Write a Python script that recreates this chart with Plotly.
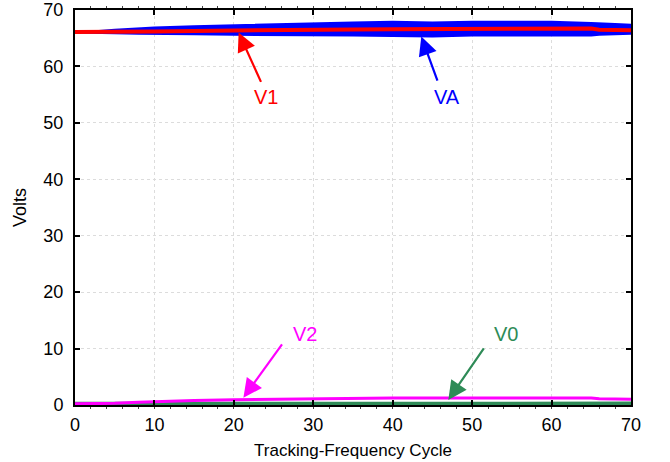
import plotly.graph_objects as go

# ---- data ----
x_pts = [0, 3, 5, 8, 10, 15, 20, 25, 30, 35, 40, 45, 50, 55, 60, 65, 66, 68, 70]
va_upper = [66.3, 66.3, 66.5, 66.7, 66.9, 67.1, 67.3, 67.5, 67.6, 67.8, 67.9, 67.8, 67.9, 67.9, 67.9, 67.7, 67.6, 67.5, 67.4]
va_lower = [66.0, 66.0, 65.9, 65.8, 65.8, 65.7, 65.6, 65.6, 65.5, 65.5, 65.4, 65.3, 65.5, 65.5, 65.4, 65.5, 65.6, 65.7, 65.8]
v1 = [66.1, 66.1, 66.1, 66.2, 66.2, 66.3, 66.4, 66.45, 66.5, 66.55, 66.6, 66.6, 66.6, 66.65, 66.7, 66.7, 66.5, 66.4, 66.4]
v2 = [0.2, 0.2, 0.3, 0.5, 0.6, 0.8, 0.95, 1.05, 1.15, 1.25, 1.25, 1.25, 1.25, 1.25, 1.25, 1.25, 1.1, 1.0, 1.0]
v0 = [0.2, 0.2, 0.2, 0.25, 0.25, 0.25, 0.25, 0.25, 0.25, 0.25, 0.25, 0.25, 0.25, 0.25, 0.25, 0.25, 0.25, 0.25, 0.25]

x_ticks = [0, 10, 20, 30, 40, 50, 60, 70]
y_ticks = [0, 10, 20, 30, 40, 50, 60, 70]

# labels: (text, text_x, text_y, tail_x, tail_y, head_x, head_y, color)
labels = [
    ("V1", 24.0, 54.5, 23.5, 57.0, 20.6, 66.0, "#ff0000"),
    ("VA", 46.8, 54.5, 45.7, 57.2, 43.6, 65.3, "#0000ff"),
    ("V2", 29.0, 12.6, 26.2, 11.0, 21.2, 1.3, "#ff00ff"),
    ("V0", 54.3, 12.6, 51.6, 10.3, 47.0, 0.9, "#2e8b57"),
]

FONT = "Liberation Sans, Arial, sans-serif"

fig = go.Figure()
fig.add_trace(go.Scatter(x=x_pts, y=v0, mode="lines", line=dict(color="#2e8b57", width=4), showlegend=False))
fig.add_trace(go.Scatter(x=x_pts, y=v2, mode="lines", line=dict(color="#ff00ff", width=3), showlegend=False))
fig.add_trace(go.Scatter(x=x_pts, y=va_lower, mode="lines", line=dict(color="#0000ff", width=2), showlegend=False))
fig.add_trace(go.Scatter(x=x_pts, y=va_upper, mode="lines", line=dict(color="#0000ff", width=2),
                         fill="tonexty", fillcolor="#0000ff", showlegend=False))
fig.add_trace(go.Scatter(x=x_pts, y=v1, mode="lines", line=dict(color="#ff0000", width=4), showlegend=False))

for text, tx, ty, ax, ay, hx, hy, col in labels:
    fig.add_annotation(x=tx, y=ty, text=text, showarrow=False, xref="x", yref="y",
                       font=dict(family=FONT, size=20, color=col))
    fig.add_annotation(x=hx, y=hy, ax=ax, ay=ay, axref="x", ayref="y", xref="x", yref="y",
                       text="", showarrow=True, arrowhead=2, arrowsize=1.7, arrowwidth=2.2,
                       arrowcolor=col, standoff=0, startstandoff=0)

axis_common = dict(showline=True, linecolor="black", linewidth=2, mirror="ticks",
                   ticks="inside", ticklen=5, tickwidth=2, tickcolor="black",
                   showgrid=True, gridcolor="#dcdcdc", griddash="dot", gridwidth=1,
                   zeroline=False, automargin=False,
                   tickfont=dict(family=FONT, size=18, color="black"))

fig.update_xaxes(range=[0, 70], tickvals=x_ticks, ticktext=[str(v) for v in x_ticks],
                 title=dict(text="Tracking-Frequency Cycle", font=dict(family=FONT, size=17, color="black"), standoff=11),
                 minor=dict(tickvals=list(range(0, 71, 2)), ticks="outside", ticklen=2, tickwidth=1, tickcolor="#444", showgrid=False),
                 ticklabelstandoff=2,
                 **axis_common)
fig.update_yaxes(range=[0, 70], tickvals=y_ticks, ticktext=[str(v) for v in y_ticks],
                 title=dict(text="Volts", font=dict(family=FONT, size=18, color="black"), standoff=12),
                 ticklabelstandoff=6,
                 **axis_common)

fig.update_layout(width=670, height=462, margin=dict(l=75, r=39, t=10, b=57),
                  plot_bgcolor="white", paper_bgcolor="white", showlegend=False)

fig.write_html("out.html")
